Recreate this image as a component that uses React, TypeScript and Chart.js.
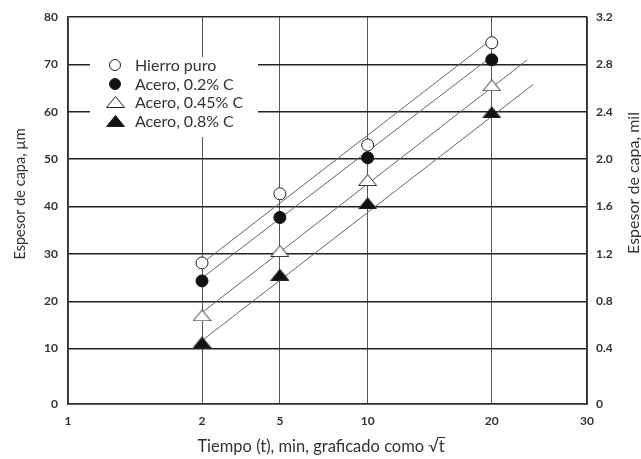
import React, { useEffect, useRef } from 'react';
import { Chart, registerables } from 'chart.js';

Chart.register(...registerables);

// ---- data ----
const timesMin = [2, 5, 10, 20];
const hierroPuro = [28.1, 42.7, 53.0, 74.6];
const acero02 = [24.3, 37.7, 50.3, 71.0];
const acero045 = [17.0, 30.6, 45.6, 65.6];
const acero08 = [11.3, 25.6, 40.7, 59.9];
const seriesLabels = ['Hierro puro', 'Acero, 0.2% C', 'Acero, 0.45% C', 'Acero, 0.8% C'];

// fitted lines (start / end in minutes and µm)
const fitStartMin = [2, 2, 2, 2];
const fitEndMin = [19.8, 20.1, 23.5, 24.1];
const fitStartUm = [28.0, 24.9, 17.6, 11.7];
const fitEndUm = [75.0, 71.9, 71.0, 65.8];

// axes
const xTickMinutes = [0, 2, 5, 10, 20, 30];
const xTickLabels = ['1', '2', '5', '10', '20', '30'];
const yTicksUm = [10, 20, 30, 40, 50, 60, 70, 80];
const yTicksMil = [0.4, 0.8, 1.2, 1.6, 2.0, 2.4, 2.8, 3.2];
const yBottomUm = -1.7; // bottom edge labelled "0"
const yTopUm = 80;
const umPerMil = 25;

const FONT = 'Lato';

function makeTriangle(filled: boolean) {
  const c = document.createElement('canvas');
  c.width = 19;
  c.height = 12;
  const g = c.getContext('2d')!;
  g.beginPath();
  g.moveTo(0.5, 11.5);
  g.lineTo(9.5, 0.5);
  g.lineTo(18.5, 11.5);
  g.closePath();
  g.fillStyle = filled ? '#111' : '#fff';
  g.fill();
  g.strokeStyle = '#222';
  g.lineWidth = 1;
  g.stroke();
  return c;
}

export default function App() {
  const ref = useRef<HTMLCanvasElement | null>(null);

  useEffect(() => {
    if (!ref.current) return;
    const triOpen = makeTriangle(false);
    const triFilled = makeTriangle(true);
    const seriesValues = [hierroPuro, acero02, acero045, acero08];
    const styles: any[] = [
      { pointStyle: 'circle', pointRadius: 6, pointBackgroundColor: '#fff', pointBorderColor: '#222' },
      { pointStyle: 'circle', pointRadius: 6, pointBackgroundColor: '#111', pointBorderColor: '#111' },
      { pointStyle: triOpen, pointRadius: 7 },
      { pointStyle: triFilled, pointRadius: 7 },
    ];

    const markerSets = seriesValues.map((vals, i) => ({
      label: seriesLabels[i],
      data: timesMin.map((t, j) => ({ x: Math.sqrt(t), y: vals[j] })),
      showLine: false,
      pointBorderWidth: 1,
      order: 1,
      ...styles[i],
    }));
    const lineSets = seriesValues.map((_, i) => ({
      label: 'fit ' + seriesLabels[i],
      data: [
        { x: Math.sqrt(fitStartMin[i]), y: fitStartUm[i] },
        { x: Math.sqrt(fitEndMin[i]), y: fitEndUm[i] },
      ],
      showLine: true,
      borderColor: '#666',
      borderWidth: 1,
      pointRadius: 0,
      order: 2,
    }));

    const drawMarker = (ctx: CanvasRenderingContext2D, i: number, x: number, y: number) => {
      if (i < 2) {
        ctx.beginPath();
        ctx.arc(x, y, 5.5, 0, Math.PI * 2);
        ctx.fillStyle = i === 0 ? '#fff' : '#111';
        ctx.fill();
        ctx.lineWidth = 1;
        ctx.strokeStyle = '#222';
        ctx.stroke();
      } else {
        const img = i === 2 ? triOpen : triFilled;
        ctx.drawImage(img, Math.round(x - img.width / 2), Math.round(y - img.height / 2));
      }
    };

    const overlay = {
      id: 'overlay',
      beforeDatasetsDraw(chart: any) {
        const ctx: CanvasRenderingContext2D = chart.ctx;
        ctx.save();
        ctx.fillStyle = '#fff';
        ctx.fillRect(90, 57, 168, 80);
        const rows = [65, 84, 102, 121];
        ctx.font = `16px ${FONT}`;
        ctx.textAlign = 'left';
        ctx.textBaseline = 'middle';
        seriesLabels.forEach((lab, i) => {
          drawMarker(ctx, i, 115, rows[i]);
          ctx.fillStyle = '#333';
          ctx.fillText(lab, 135, rows[i] + 1);
        });
        ctx.restore();
      },
      afterDraw(chart: any) {
        const ctx: CanvasRenderingContext2D = chart.ctx;
        ctx.save();
        ctx.fillStyle = '#333';
        ctx.textAlign = 'center';
        ctx.textBaseline = 'middle';
        // left title
        ctx.save();
        ctx.translate(20, 194);
        ctx.rotate(-Math.PI / 2);
        ctx.font = `14.5px ${FONT}`;
        ctx.fillText('Espesor de capa, µm', 0, 0);
        ctx.restore();
        // right title
        ctx.save();
        ctx.translate(634, 183);
        ctx.rotate(-Math.PI / 2);
        ctx.font = `16px ${FONT}`;
        ctx.fillText('Espesor de capa, mil', 0, 0);
        ctx.restore();
        // x title
        ctx.font = `16.5px ${FONT}`;
        const txt = 'Tiempo (t), min, graficado como √t';
        const w = ctx.measureText(txt).width;
        const cx = 321;
        const cy = 447;
        ctx.fillText(txt, cx, cy);
        const tw = ctx.measureText('t').width;
        const endX = cx + w / 2;
        ctx.strokeStyle = '#333';
        ctx.lineWidth = 1;
        ctx.beginPath();
        ctx.moveTo(endX - tw - 1.5, cy - 9.5);
        ctx.lineTo(endX + 0.5, cy - 9.5);
        ctx.stroke();
        ctx.restore();
      },
    };

    const tickFont = { family: FONT, size: 12, weight: 'bold' as const };

    const chart = new Chart(ref.current, {
      type: 'scatter',
      data: { datasets: [...markerSets, ...lineSets] as any },
      options: {
        animation: false,
        responsive: false,
        layout: { padding: { top: 14, left: 0, right: 0, bottom: 0 } },
        plugins: { legend: { display: false }, tooltip: { enabled: false } },
        scales: {
          x: {
            type: 'linear',
            min: 0,
            max: Math.sqrt(30),
            afterBuildTicks: (s: any) => {
              s.ticks = xTickMinutes.map((m) => ({ value: Math.sqrt(m) }));
            },
            afterFit: (s: any) => {
              s.height = 55;
            },
            ticks: {
              callback: (_v: any, i: number) => xTickLabels[i],
              font: tickFont,
              color: '#333',
              padding: 10,
              maxRotation: 0,
              autoSkip: false,
            },
            grid: { color: '#555', lineWidth: 1, drawTicks: false },
            border: { color: '#333', width: 1.5 },
          },
          y: {
            position: 'left',
            min: yBottomUm,
            max: yTopUm,
            afterBuildTicks: (s: any) => {
              s.ticks = [yBottomUm, ...yTicksUm].map((v) => ({ value: v }));
            },
            afterFit: (s: any) => {
              s.width = 68;
            },
            ticks: {
              callback: (v: any, i: number) => (i === 0 ? '0' : String(v)),
              font: tickFont,
              color: '#333',
              padding: 10,
              autoSkip: false,
            },
            grid: { color: '#222', lineWidth: 1.5, drawTicks: false },
            border: { color: '#333', width: 1.5 },
          },
          y2: {
            position: 'right',
            min: yBottomUm / umPerMil,
            max: yTopUm / umPerMil,
            afterBuildTicks: (s: any) => {
              s.ticks = [yBottomUm / umPerMil, ...yTicksMil].map((v) => ({ value: v }));
            },
            afterFit: (s: any) => {
              s.width = 54;
            },
            ticks: {
              callback: (v: any, i: number) => (i === 0 ? '0' : Number(v).toFixed(1)),
              font: tickFont,
              color: '#333',
              padding: 9,
              autoSkip: false,
            },
            grid: { display: false, drawTicks: false },
            border: { color: '#333', width: 1.5 },
          },
        },
      },
      plugins: [overlay],
    });
    return () => chart.destroy();
  }, []);

  return (
    <div style={{ position: 'fixed', left: 0, top: 0, width: 641, height: 459, background: '#fff' }}>
      <canvas ref={ref} width={641} height={459} style={{ display: 'block' }} />
    </div>
  );
}
